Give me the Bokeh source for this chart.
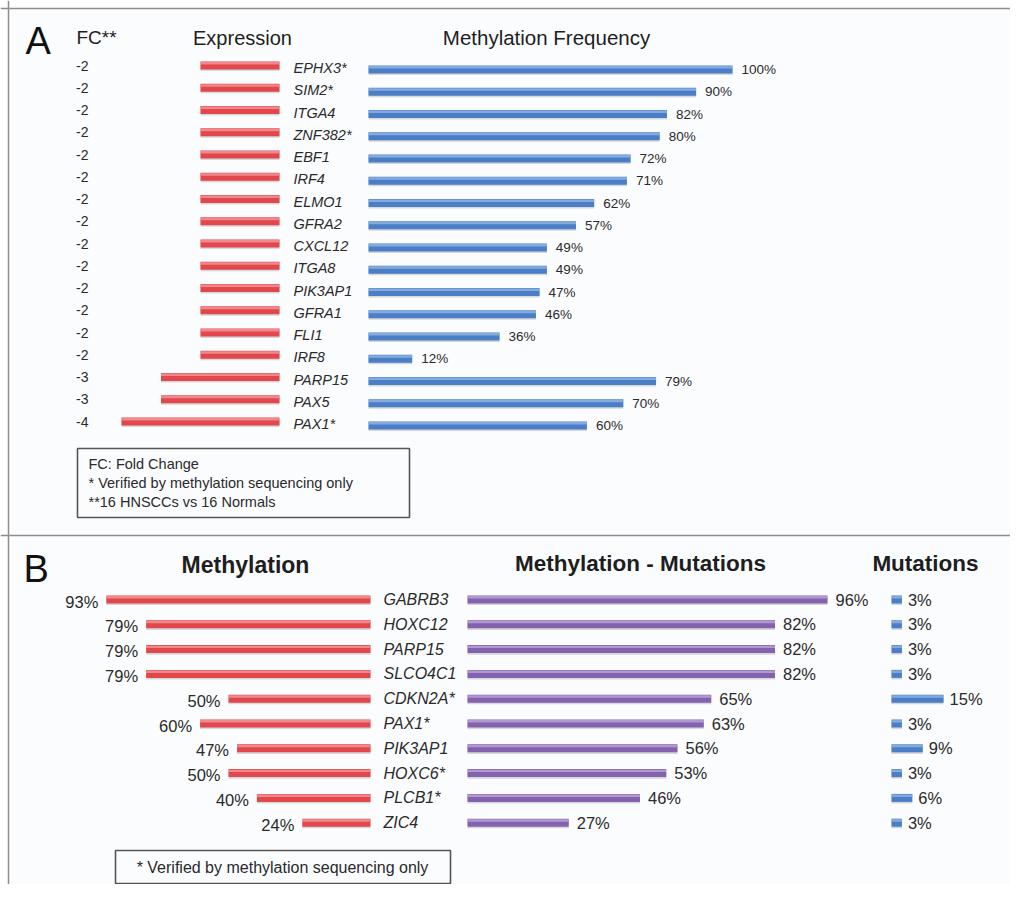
from bokeh.plotting import figure
from bokeh.models import Range1d, ColumnDataSource, Label, Span, BoxAnnotation
from bokeh.transform import dodge
from bokeh.core.properties import value
from bokeh.embed import file_html
from bokeh.resources import INLINE

# ---------------- data ----------------
genes_a = ["EPHX3*", "SIM2*", "ITGA4", "ZNF382*", "EBF1", "IRF4", "ELMO1", "GFRA2",
           "CXCL12", "ITGA8", "PIK3AP1", "GFRA1", "FLI1", "IRF8", "PARP15", "PAX5", "PAX1*"]
fold_change = [-2, -2, -2, -2, -2, -2, -2, -2, -2, -2, -2, -2, -2, -2, -3, -3, -4]
meth_freq = [100, 90, 82, 80, 72, 71, 62, 57, 49, 49, 47, 46, 36, 12, 79, 70, 60]

genes_b = ["GABRB3", "HOXC12", "PARP15", "SLCO4C1", "CDKN2A*", "PAX1*", "PIK3AP1",
           "HOXC6*", "PLCB1*", "ZIC4"]
methylation_b = [93, 79, 79, 79, 50, 60, 47, 50, 40, 24]
meth_mut_b = [96, 82, 82, 82, 65, 63, 56, 53, 46, 27]
mutations_b = [3, 3, 3, 3, 15, 3, 9, 3, 6, 3]

# ---------------- layout ----------------
W, H = 1010, 884
X0, X1, Y0, Y1 = 0, W, 0, H
FONT_NAME = "Liberation Sans"
FONT = value(FONT_NAME)
TXT = "#2a2a2a"

RED, RED_HI = "#E2474C", "#F29A9C"
BLUE, BLUE_HI = "#4A7EC6", "#93B7E4"
PURP, PURP_HI = "#8462AE", "#BCA6D8"

p = figure(width=W, height=H, x_range=Range1d(X0, X1), y_range=Range1d(Y1, Y0),
           x_axis_type=None, y_axis_type=None, output_backend="svg",
           toolbar_location=None, min_border=0,
           background_fill_color="#FFFFFF", border_fill_color="#FFFFFF",
           outline_line_color=None)

# tinted panel area inside the frame lines
p.add_layout(BoxAnnotation(left=8, right=X1, top=8, bottom=Y1,
                           fill_color="#FBFCFE", fill_alpha=1, line_color=None,
                           level="underlay"))


def xrange(origin, scale):
    return Range1d((X0 - origin) / scale, (X1 - origin) / scale)


def yrange(first, step):
    return Range1d((Y1 - first) / step, (Y0 - first) / step)


STEP_A, STEP_B = 22.25, 24.8
p.extra_x_ranges = {
    "fc": xrange(279, 39.5),
    "mfA": xrange(368, 3.64),
    "methB": xrange(370, -2.84),
    "mmB": xrange(467, 3.75),
    "mutB": xrange(891, 3.47),
}
p.extra_y_ranges = {
    "rowsA": yrange(65, STEP_A),
    "rowsB": yrange(599, STEP_B),
}

src_a = ColumnDataSource(dict(
    row=list(range(len(genes_a))), gene=genes_a, fc=fold_change,
    fc_lbl=[str(v) for v in fold_change], mf=meth_freq,
    mf_lbl=[f"{v}%" for v in meth_freq]))
src_b = ColumnDataSource(dict(
    row=list(range(len(genes_b))), gene=genes_b,
    meth=methylation_b, meth_lbl=[f"{v}%" for v in methylation_b],
    mm=meth_mut_b, mm_lbl=[f"{v}%" for v in meth_mut_b],
    mut=mutations_b, mut_lbl=[f"{v}%" for v in mutations_b]))


def bar(src, left, right, xname, yname, step, shift_px, color, hi):
    h = 8.0 / step
    kw = dict(source=src, x_range_name=xname, y_range_name=yname, line_color=None)
    p.hbar(y=dodge("row", (shift_px + 1.6) / step), left=left, right=right,
           height=h, fill_color="#B8B8B8", fill_alpha=0.55, **kw)
    p.hbar(y=dodge("row", shift_px / step), left=left, right=right,
           height=h, fill_color=color, **kw)
    p.hbar(y=dodge("row", (shift_px - 2.2) / step), left=left, right=right,
           height=2.4 / step, fill_color=hi, fill_alpha=0.8, **kw)


# ---------------- panel A ----------------
bar(src_a, "fc", 0, "fc", "rowsA", STEP_A, 0, RED, RED_HI)
bar(src_a, 0, "mf", "mfA", "rowsA", STEP_A, 4, BLUE, BLUE_HI)

p.text(x=88, y="row", text="fc_lbl", source=src_a, y_range_name="rowsA",
       text_align="right", text_baseline="middle", text_font=FONT,
       text_font_size="14px", text_color=TXT)
p.text(x=293, y=dodge("row", 2.5 / STEP_A), text="gene", source=src_a,
       y_range_name="rowsA", text_align="left", text_baseline="middle",
       text_font=FONT, text_font_style="italic", text_font_size="14.5px",
       text_color=TXT)
p.text(x="mf", y=dodge("row", 4 / STEP_A), text="mf_lbl", source=src_a,
       x_range_name="mfA", y_range_name="rowsA", x_offset=9,
       text_align="left", text_baseline="middle", text_font=FONT,
       text_font_size="13.5px", text_color=TXT)

# ---------------- panel B ----------------
bar(src_b, 0, "meth", "methB", "rowsB", STEP_B, 0, RED, RED_HI)
bar(src_b, 0, "mm", "mmB", "rowsB", STEP_B, 0, PURP, PURP_HI)
bar(src_b, 0, "mut", "mutB", "rowsB", STEP_B, 0, BLUE, BLUE_HI)

p.text(x="meth", y=dodge("row", 2 / STEP_B), text="meth_lbl", source=src_b,
       x_range_name="methB", y_range_name="rowsB", x_offset=-8,
       text_align="right", text_baseline="middle", text_font=FONT,
       text_font_size="16.5px", text_color=TXT)
p.text(x=383, y="row", text="gene", source=src_b, y_range_name="rowsB",
       text_align="left", text_baseline="middle", text_font=FONT,
       text_font_style="italic", text_font_size="16px", text_color=TXT)
p.text(x="mm", y="row", text="mm_lbl", source=src_b,
       x_range_name="mmB", y_range_name="rowsB", x_offset=8,
       text_align="left", text_baseline="middle", text_font=FONT,
       text_font_size="16.5px", text_color=TXT)
p.text(x="mut", y="row", text="mut_lbl", source=src_b,
       x_range_name="mutB", y_range_name="rowsB", x_offset=6,
       text_align="left", text_baseline="middle", text_font=FONT,
       text_font_size="16.5px", text_color=TXT)

# ---------------- headers, frames, notes ----------------
def label(x, y, text, size, align="center", style="normal", color="#1e1e1e"):
    p.add_layout(Label(x=x, y=y, text=text, text_align=align,
                       text_baseline="middle", text_font=FONT_NAME,
                       text_font_size=size, text_font_style=style,
                       text_color=color))


label(25, 40, "A", "38px", align="left", color="#111111")
label(96, 37, "FC**", "19px")
label(242, 37, "Expression", "20px")
label(546, 37, "Methylation Frequency", "20.5px")

label(23, 568, "B", "38px", align="left", color="#111111")
label(245, 564, "Methylation", "23px", style="bold")
label(640, 563, "Methylation - Mutations", "22.5px", style="bold")
label(925, 563, "Mutations", "22.5px", style="bold")

p.add_layout(BoxAnnotation(left=77, right=409, top=448, bottom=517,
                           fill_alpha=0, line_color="#555555", line_alpha=1,
                           line_width=1.6))
label(88, 463, "FC: Fold Change", "14.5px", align="left", color=TXT)
label(88, 482, "* Verified by methylation sequencing only", "14.5px", align="left", color=TXT)
label(88, 501, "**16 HNSCCs vs 16 Normals", "14.5px", align="left", color=TXT)

p.add_layout(BoxAnnotation(left=115, right=450, top=850, bottom=883,
                           fill_alpha=0, line_color="#555555", line_alpha=1,
                           line_width=1.6))
label(282, 866.5, "* Verified by methylation sequencing only", "16px", color=TXT)

for loc, dim in [(8, "width"), (535, "width"), (8, "height")]:
    p.add_layout(Span(location=loc, dimension=dim, line_color="#8c8c8c",
                      line_alpha=1, line_width=1.5))

open("out.html", "w").write(file_html(p, INLINE))
